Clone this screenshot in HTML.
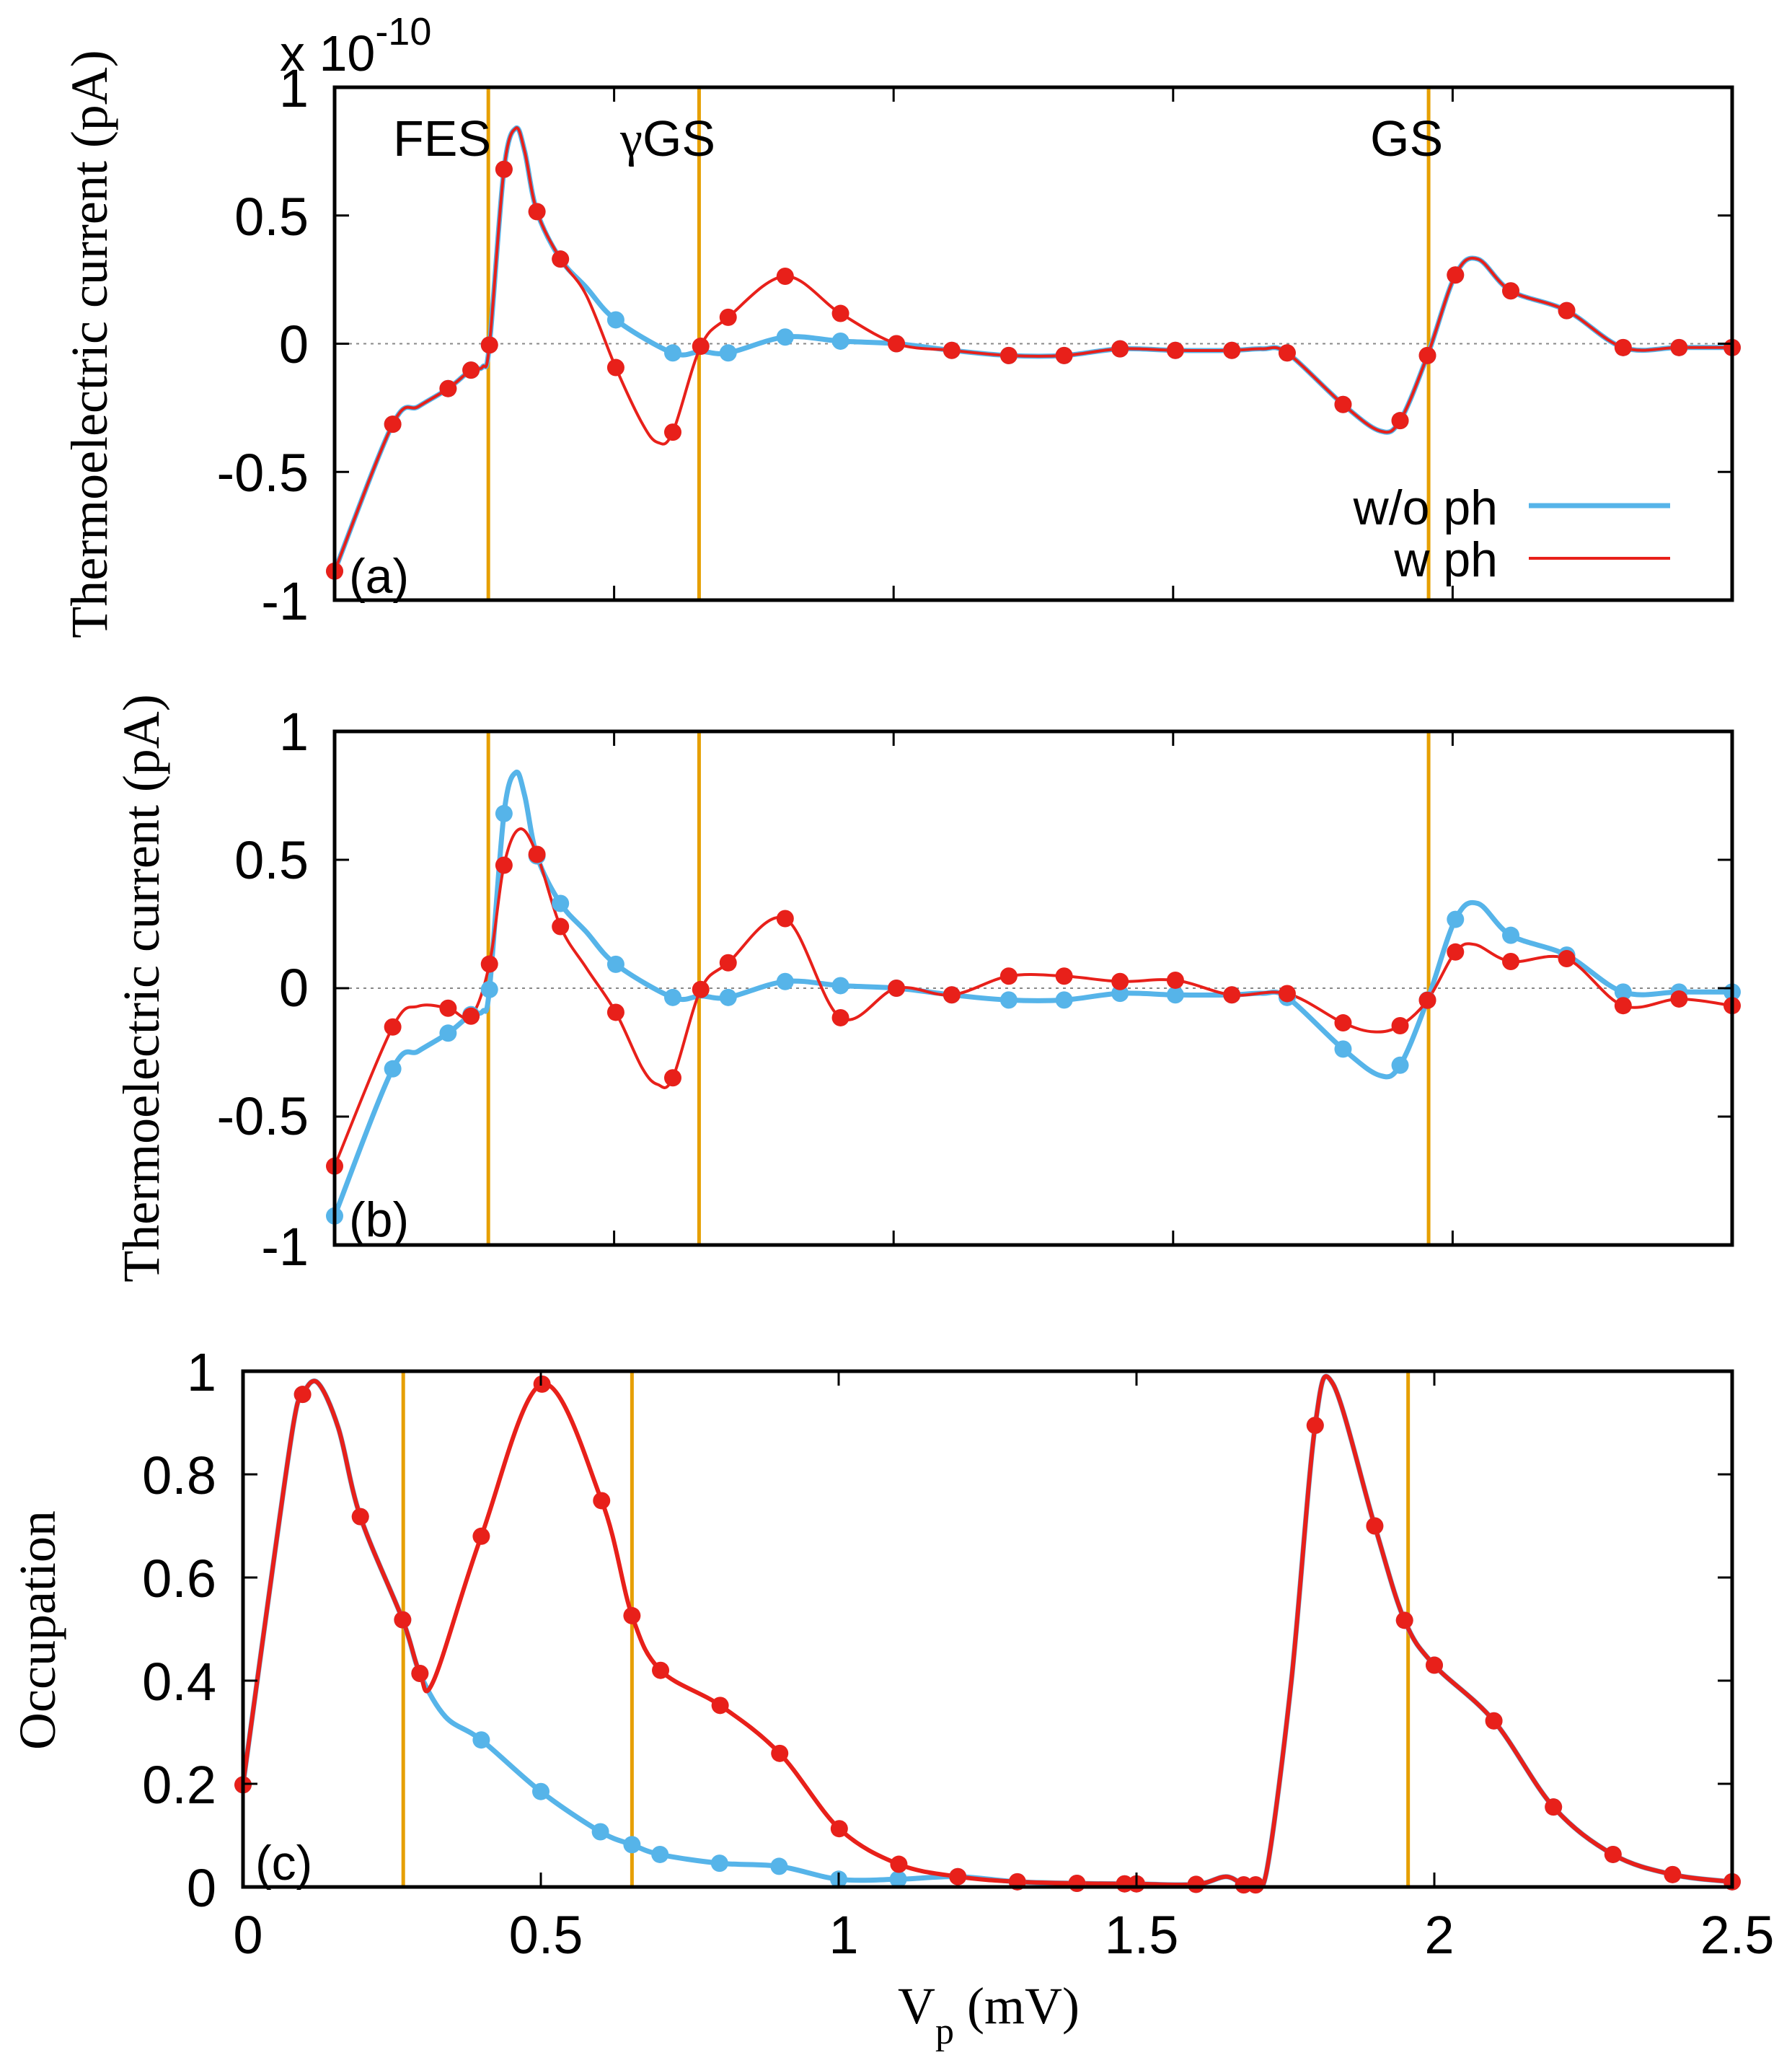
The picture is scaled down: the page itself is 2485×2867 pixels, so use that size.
<!DOCTYPE html>
<html><head><meta charset="utf-8"><style>
html,body{margin:0;padding:0;background:#fff;}
svg{display:block;}
text{font-family:"Liberation Sans",sans-serif;fill:#000;}
.serif{font-family:"Liberation Serif",serif;}
</style></head><body>
<svg id="s" width="2485" height="2867" viewBox="0 0 2485 2867" xmlns="http://www.w3.org/2000/svg">
<rect width="2485" height="2867" fill="#fff"/>
<g id="plots"></g>
<g font-size="74" text-anchor="end">
<text x="428" y="148">1</text>
<text x="428" y="326">0.5</text>
<text x="428" y="503">0</text>
<text x="428" y="681">-0.5</text>
<text x="428" y="859">-1</text>
<text x="428" y="1040">1</text>
<text x="428" y="1218">0.5</text>
<text x="428" y="1395">0</text>
<text x="428" y="1573">-0.5</text>
<text x="428" y="1754">-1</text>
<text x="300" y="1928">1</text>
<text x="300" y="2071">0.8</text>
<text x="300" y="2214">0.6</text>
<text x="300" y="2357">0.4</text>
<text x="300" y="2500">0.2</text>
<text x="300" y="2643">0</text>
</g>
<g font-size="74" text-anchor="middle">
<text x="344" y="2708">0</text>
<text x="757" y="2708">0.5</text>
<text x="1170" y="2708">1</text>
<text x="1583" y="2708">1.5</text>
<text x="1996" y="2708">2</text>
<text x="2409" y="2708">2.5</text>
</g>
<text x="388" y="98" font-size="70">x 10<tspan dy="-36" font-size="54">-10</tspan></text>
<text x="545" y="216" font-size="70">FES</text>
<text x="860" y="216" font-size="70"><tspan class="serif">γ</tspan>GS</text>
<text x="1900" y="216" font-size="70">GS</text>
<text x="2077" y="727" font-size="68" text-anchor="end">w/o ph</text>
<text x="2077" y="799" font-size="68" text-anchor="end">w ph</text>
<line x1="2120" y1="701" x2="2316" y2="701" stroke="#56b4e9" stroke-width="7"/>
<line x1="2120" y1="774" x2="2316" y2="774" stroke="#e8201a" stroke-width="4"/>
<text x="484" y="822" font-size="68">(a)</text>
<text x="484" y="1714" font-size="68">(b)</text>
<text x="354" y="2606" font-size="68">(c)</text>
<text class="serif" font-size="72" text-anchor="middle" transform="translate(148,477) rotate(-90)">Thermoelectric current (pA)</text>
<text class="serif" font-size="72" text-anchor="middle" transform="translate(220,1370) rotate(-90)">Thermoelectric current (pA)</text>
<text class="serif" font-size="72" text-anchor="middle" transform="translate(76,2260) rotate(-90)">Occupation</text>
<text class="serif" x="1245" y="2805" font-size="72">V<tspan dy="28" font-size="52">p</tspan><tspan dy="-28"> (mV)</tspan></text>
</svg>
<script>
const NS="http://www.w3.org/2000/svg";
const G=document.getElementById('plots');
function el(t,a){const e=document.createElementNS(NS,t);for(const k in a)e.setAttribute(k,a[k]);G.appendChild(e);return e;}
function cr(p){
 let d="M"+p[0][0].toFixed(1)+","+p[0][1].toFixed(1);
 for(let i=0;i<p.length-1;i++){
  const p0=p[i-1]||p[i],p1=p[i],p2=p[i+1],p3=p[i+2]||p2;
  const c1=[p1[0]+(p2[0]-p0[0])/6,p1[1]+(p2[1]-p0[1])/6];
  const c2=[p2[0]-(p3[0]-p1[0])/6,p2[1]-(p3[1]-p1[1])/6];
  d+="C"+c1[0].toFixed(1)+","+c1[1].toFixed(1)+" "+c2[0].toFixed(1)+","+c2[1].toFixed(1)+" "+p2[0].toFixed(1)+","+p2[1].toFixed(1);
 }
 return d;
}
function panel(o){
 const {L,R,T,B,y0,y1,yt,curves,vl}=o;
 const X=x=>L+(R-L)*x/2.5, Y=y=>B-(B-T)*(y-y0)/(y1-y0);
 if(o.zero) el('line',{x1:L,x2:R,y1:Y(0),y2:Y(0),stroke:'#888','stroke-width':2,'stroke-dasharray':'4,6'});
 vl.forEach(v=>el('line',{x1:X(v),x2:X(v),y1:T,y2:B,stroke:'#e69f00','stroke-width':5}));
 curves.forEach(c=>{
  el('path',{d:cr(c.pts.map(q=>[X(q[0]),Y(q[1])])),fill:'none',stroke:c.col,'stroke-width':c.w,'stroke-linejoin':'round'});
 });
 curves.forEach(c=>{
  c.pts.filter(q=>q[2]).forEach(q=>el('circle',{cx:X(q[0]),cy:Y(q[1]),r:12,fill:c.col}));
 });
 for(let i=1;i<5;i++){const x=X(i*0.5);el('line',{x1:x,x2:x,y1:B,y2:B-20,stroke:'#000','stroke-width':3});el('line',{x1:x,x2:x,y1:T,y2:T+20,stroke:'#000','stroke-width':3});}
 yt.forEach(v=>{const y=Y(v);el('line',{x1:L,x2:L+20,y1:y,y2:y,stroke:'#000','stroke-width':3});el('line',{x1:R,x2:R-20,y1:y,y2:y,stroke:'#000','stroke-width':3});});
 el('rect',{x:L,y:T,width:R-L,height:B-T,fill:'none',stroke:'#000','stroke-width':5});
}
const RED='#e8201a',BLUE='#56b4e9';
const common1=[[0,-0.887,1],[0.104,-0.314,1],[0.15,-0.245],[0.203,-0.175,1],[0.244,-0.103,1],[0.265,-0.09],[0.277,-0.005,1],[0.303,0.68,1],[0.324,0.84],[0.34,0.75],[0.362,0.515,1],[0.404,0.330,1]];
const tail=[[1.005,0,1],[1.104,-0.026,1],[1.206,-0.046,1],[1.305,-0.046,1],[1.405,-0.02,1],[1.504,-0.026,1],[1.605,-0.026,1],[1.66,-0.02],[1.704,-0.036,1],[1.804,-0.237,1],[1.87,-0.34],[1.906,-0.30,1],[1.955,-0.046,1],[2.005,0.268,1],[2.045,0.33],[2.104,0.206,1],[2.204,0.129,1],[2.305,-0.015,1],[2.405,-0.015,1],[2.5,-0.015,1]];
const blueA=common1.concat([[0.45,0.22],[0.503,0.093,1],[0.605,-0.036,1],[0.655,-0.03],[0.704,-0.036,1],[0.806,0.026,1],[0.905,0.01,1]]).concat(tail);
const redA=common1.concat([[0.45,0.19],[0.503,-0.093,1],[0.55,-0.31],[0.578,-0.385],[0.605,-0.345,1],[0.655,-0.01,1],[0.704,0.103,1],[0.806,0.263,1],[0.905,0.118,1]]).concat(tail);
const VL=[0.275,0.652,1.957];
panel({L:464,R:2402,T:121,B:832,y0:-1,y1:1,yt:[-0.5,0,0.5],zero:1,vl:VL,curves:[{pts:blueA,col:BLUE,w:7},{pts:redA,col:RED,w:4}]});
const redB=[[0,-0.693,1],[0.104,-0.151,1],[0.15,-0.07],[0.203,-0.078,1],[0.244,-0.109,1],[0.277,0.094,1],[0.303,0.479,1],[0.331,0.62],[0.362,0.521,1],[0.404,0.24,1],[0.45,0.08],[0.503,-0.094,1],[0.55,-0.31],[0.578,-0.375],[0.605,-0.349,1],[0.655,-0.005,1],[0.704,0.099,1],[0.806,0.271,1],[0.905,-0.115,1],[1.005,0,1],[1.104,-0.026,1],[1.206,0.047,1],[1.305,0.047,1],[1.405,0.026,1],[1.504,0.031,1],[1.605,-0.026,1],[1.704,-0.021,1],[1.804,-0.135,1],[1.86,-0.17],[1.906,-0.146,1],[1.955,-0.047,1],[2.005,0.141,1],[2.04,0.17],[2.104,0.104,1],[2.204,0.115,1],[2.305,-0.068,1],[2.405,-0.042,1],[2.5,-0.068,1]];
panel({L:464,R:2402,T:1014,B:1726,y0:-1,y1:1,yt:[-0.5,0,0.5],zero:1,vl:VL,curves:[{pts:blueA,col:BLUE,w:7},{pts:redB,col:RED,w:4}]});
const c1=[[0,0.198,1],[0.05,0.62],[0.085,0.9],[0.1,0.955,1],[0.125,0.978],[0.16,0.89],[0.197,0.718,1],[0.268,0.518,1],[0.297,0.414,1]];
const ctail=[[1.2,0.02,1],[1.3,0.01,1],[1.4,0.007,1],[1.48,0.006,1],[1.5,0.006,1],[1.6,0.005,1],[1.65,0.02],[1.68,0.004,1],[1.70,0.004,1],[1.72,0.04],[1.76,0.4],[1.80,0.895,1],[1.83,0.975],[1.90,0.70,1],[1.95,0.517,1],[2.0,0.43,1],[2.10,0.322,1],[2.20,0.155,1],[2.30,0.063,1],[2.40,0.024,1],[2.50,0.01,1]];
const blueC=c1.concat([[0.34,0.33],[0.40,0.285,1],[0.5,0.185,1],[0.6,0.107,1],[0.653,0.082,1],[0.70,0.063,1],[0.8,0.046,1],[0.9,0.040,1],[1.0,0.015,1],[1.1,0.015,1]]).concat(ctail);
const redC=c1.concat([[0.32,0.40],[0.40,0.68,1],[0.502,0.975,1],[0.602,0.749,1],[0.653,0.526,1],[0.701,0.42,1],[0.801,0.352,1],[0.901,0.259,1],[1.001,0.113,1],[1.101,0.044,1]]).concat(ctail);
panel({L:337,R:2402,T:1901,B:2616,y0:0,y1:1,yt:[0.2,0.4,0.6,0.8],zero:0,vl:[0.269,0.653,1.956],curves:[{pts:blueC,col:BLUE,w:7},{pts:redC,col:RED,w:6}]});
</script>
</body></html>
